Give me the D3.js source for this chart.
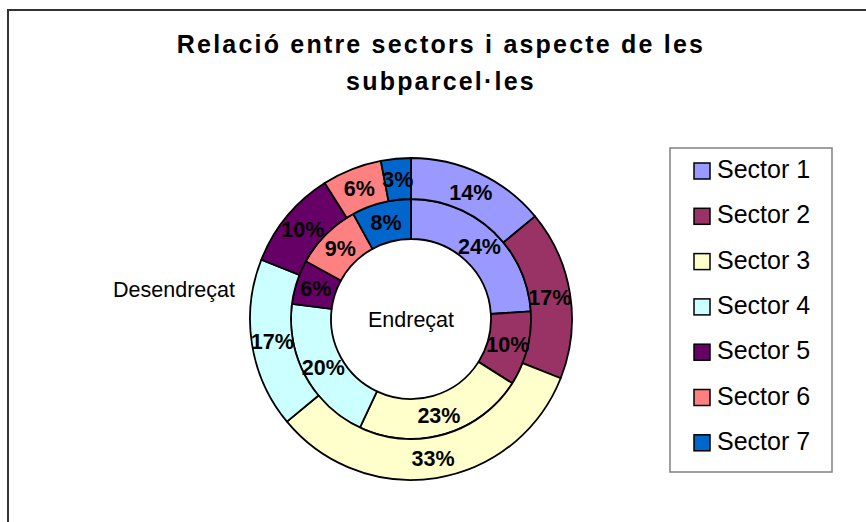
<!DOCTYPE html>
<html>
<head>
<meta charset="utf-8">
<script src="https://cdn.jsdelivr.net/npm/d3@7"></script>
<style>
  html, body { margin: 0; padding: 0; background: #fff; }
  svg { display: block; font-family: Arial, 'Liberation Sans', sans-serif; }
</style>
</head>
<body>
<div id="chart"></div>
<script>
// Data
const sectors = ['Sector 1', 'Sector 2', 'Sector 3', 'Sector 4', 'Sector 5', 'Sector 6', 'Sector 7'];
const endrecat = [24, 10, 23, 20, 6, 9, 8];       // inner ring
const desendrecat = [14, 17, 33, 17, 10, 6, 3];   // outer ring
const sectorColors = ['#9999FF', '#993366', '#FFFFCC', '#CCFFFF', '#660066', '#FF8080', '#0066CC'];
const titleLines = ['Relació entre sectors i aspecte de les', 'subparcel·les'];

const W = 866, H = 522;
const svg = d3.select('#chart').append('svg')
  .attr('width', W).attr('height', H);

// Chart area frame (runs off the right and bottom edge)
svg.append('rect')
  .attr('x', 8).attr('y', 10)
  .attr('width', W + 20).attr('height', H + 20)
  .attr('fill', '#fff')
  .attr('stroke', '#333')
  .attr('stroke-width', 2);

// Title
svg.append('g').selectAll('text')
  .data(titleLines)
  .enter().append('text')
  .attr('x', 441)
  .attr('y', (d, i) => 53 + i * 37)
  .attr('text-anchor', 'middle')
  .style('font-size', '25px')
  .style('font-weight', 'bold')
  .style('letter-spacing', '2.2px')
  .text(d => d);

// ---- Doughnut ----
const cx = 411, cy = 319;
const rHole = 80, rMid = 120, rOuter = 161;
const g = svg.append('g').attr('transform', `translate(${cx},${cy})`);

const pie = d3.pie().sort(null).value(d => d);
const color = d3.scaleOrdinal().domain(sectors).range(sectorColors);

const rings = [
  { data: endrecat, inner: rHole, outer: rMid },
  { data: desendrecat, inner: rMid, outer: rOuter },
];

rings.forEach(ring => {
  const arc = d3.arc().innerRadius(ring.inner).outerRadius(ring.outer);
  g.append('g').selectAll('path')
    .data(pie(ring.data))
    .enter().append('path')
    .attr('d', arc)
    .attr('fill', (d, i) => color(sectors[i]))
    .attr('stroke', '#000')
    .attr('stroke-width', 1.8)
    .attr('stroke-linejoin', 'round');
});

// Labels on top of both rings
rings.forEach(ring => {
  const arc = d3.arc().innerRadius(ring.inner).outerRadius(ring.outer);
  g.append('g').selectAll('text')
    .data(pie(ring.data))
    .enter().append('text')
    .attr('transform', d => `translate(${arc.centroid(d)})`)
    .attr('text-anchor', 'middle')
    .attr('dy', '0.36em')
    .style('font-size', '21.5px')
    .style('font-weight', 'bold')
    .attr('fill', '#000')
    .text(d => d.data + '%');
});

// Ring names
g.append('text')
  .attr('x', 0).attr('y', 0).attr('dy', '0.36em')
  .attr('text-anchor', 'middle')
  .style('font-size', '21.5px')
  .text('Endreçat');

svg.append('text')
  .attr('x', 235).attr('y', 289).attr('dy', '0.36em')
  .attr('text-anchor', 'end')
  .style('font-size', '21.5px')
  .text('Desendreçat');

// ---- Legend ----
const legend = svg.append('g');
legend.append('rect')
  .attr('x', 670).attr('y', 148)
  .attr('width', 162).attr('height', 324)
  .attr('fill', '#fff')
  .attr('stroke', '#808080')
  .attr('stroke-width', 1.5);

const rows = legend.selectAll('g.row')
  .data(sectors)
  .enter().append('g')
  .attr('class', 'row')
  .attr('transform', (d, i) => `translate(694,${169 + i * 45.3})`);

rows.append('rect')
  .attr('x', 0).attr('y', -6)
  .attr('width', 16).attr('height', 16)
  .attr('fill', d => color(d))
  .attr('stroke', '#000')
  .attr('stroke-width', 1.5);

rows.append('text')
  .attr('x', 23).attr('y', 0).attr('dy', '0.36em')
  .style('font-size', '25px')
  .text(d => d);
</script>
</body>
</html>
